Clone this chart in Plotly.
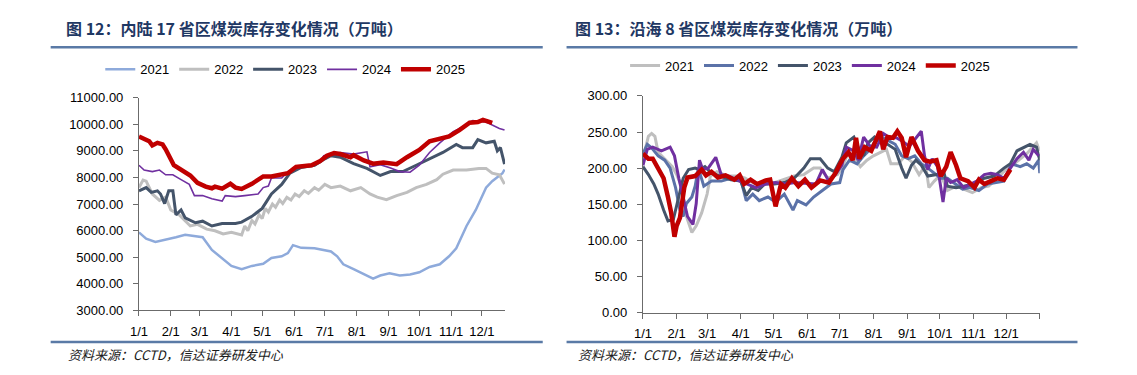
import plotly.graph_objects as go

# ---------------- data (x = day of year, 0 = Jan 1) ----------------
month_ticks = [0, 31, 59, 90, 120, 151, 181, 212, 243, 273, 304, 334]
month_labels = ["1/1", "2/1", "3/1", "4/1", "5/1", "6/1", "7/1", "8/1", "9/1", "10/1", "11/1", "12/1"]
years = ["2021", "2022", "2023", "2024", "2025"]

# Left chart: inland 17 provinces (10k t)
L2021_day = [0, 7, 16, 26, 36, 45, 55, 62, 71, 81, 90, 100, 110, 121, 129, 139, 145, 150, 158, 171, 180, 187, 193, 199, 209, 219, 228, 235, 244, 254, 264, 273, 283, 293, 302, 309, 319, 328, 338, 344, 354, 356]
L2021_val = [5935, 5694, 5574, 5654, 5750, 5840, 5790, 5750, 5273, 4973, 4672, 4552, 4672, 4752, 4973, 5033, 5153, 5453, 5353, 5333, 5273, 5213, 5033, 4733, 4552, 4371, 4191, 4311, 4391, 4311, 4351, 4431, 4632, 4733, 5033, 5333, 6175, 6777, 7618, 7859, 8159, 8300]

L2022_day = [0, 4, 7, 13, 20, 26, 31, 39, 50, 57, 66, 74, 82, 90, 100, 103, 106, 110, 113, 117, 120, 123, 126, 130, 133, 137, 140, 144, 148, 152, 156, 161, 165, 171, 175, 181, 187, 196, 206, 216, 225, 232, 241, 251, 261, 270, 280, 290, 296, 306, 319, 331, 338, 344, 351, 356]
L2022_val = [7618, 7900, 7859, 7378, 7137, 7258, 6776, 6596, 6175, 6235, 6055, 5995, 5875, 5935, 5840, 6175, 6000, 6380, 6250, 6600, 6450, 6837, 6700, 7000, 6880, 7150, 7020, 7250, 7150, 7378, 7280, 7498, 7400, 7618, 7520, 7738, 7618, 7678, 7498, 7618, 7378, 7258, 7162, 7318, 7438, 7618, 7738, 7918, 8123, 8280, 8280, 8340, 8340, 8159, 8100, 7750]

L2023_day = [0, 7, 12, 18, 21, 25, 29, 33, 36, 41, 45, 55, 62, 71, 81, 94, 100, 110, 120, 129, 139, 147, 158, 171, 181, 187, 196, 209, 222, 235, 245, 257, 270, 283, 296, 309, 315, 325, 330, 338, 346, 349, 352, 356]
L2023_val = [7498, 7618, 7438, 7498, 7378, 7017, 7498, 7498, 6596, 6776, 6476, 6295, 6355, 6175, 6271, 6271, 6320, 6536, 6837, 7378, 7738, 8159, 8376, 8460, 8700, 8820, 8761, 8520, 8340, 8075, 8220, 8220, 8460, 8700, 8940, 9242, 9122, 9122, 9423, 9303, 9362, 9002, 9122, 8500]

L2024_day = [0, 5, 13, 20, 26, 33, 41, 49, 54, 62, 71, 81, 84, 94, 103, 116, 121, 126, 129, 139, 145, 152, 165, 177, 180, 196, 209, 222, 225, 235, 245, 254, 264, 273, 283, 293, 306, 315, 325, 338, 351, 356]
L2024_val = [8460, 8280, 8220, 8280, 8100, 8100, 7918, 7738, 7318, 7318, 7197, 7113, 7318, 7280, 7318, 7378, 7618, 7678, 7979, 7979, 8220, 8340, 8436, 8640, 8820, 8940, 8880, 8965, 8400, 8480, 8360, 8220, 8196, 8460, 8940, 9303, 9723, 9903, 10144, 10084, 9843, 9783]

L2025_day = [0, 10, 13, 18, 23, 26, 34, 42, 50, 57, 65, 71, 74, 81, 89, 94, 100, 110, 121, 129, 136, 145, 153, 161, 168, 176, 181, 183, 190, 196, 206, 209, 219, 228, 238, 251, 261, 273, 283, 293, 302, 312, 322, 330, 335, 344]
L2025_val = [9542, 9362, 9206, 9303, 9243, 9061, 8460, 8243, 8075, 7799, 7654, 7594, 7654, 7582, 7763, 7618, 7570, 7763, 8040, 8040, 8075, 8159, 8400, 8420, 8460, 8604, 8761, 8820, 8917, 8880, 8761, 8840, 8640, 8520, 8560, 8500, 8761, 9037, 9362, 9447, 9542, 9783, 10060, 10084, 10168, 10050]

# Right chart: coastal 8 provinces (10k t)
R2021_day = [0, 5, 8, 11, 14, 20, 27, 31, 36, 40, 45, 49, 54, 59, 62, 68, 78, 88, 94, 103, 112, 121, 130, 139, 148, 157, 163, 170, 179, 183, 189, 195, 200, 206, 212, 218, 224, 228, 235, 241, 247, 254, 260, 263, 268, 274, 280, 288, 295, 303, 311, 318, 326, 335, 344, 353, 362, 365]
R2021_val = [213, 244, 248, 244, 222, 213, 202, 191, 173, 133, 111, 120, 138, 164, 189, 195, 189, 189, 186, 178, 180, 180, 184, 189, 191, 200, 200, 186, 191, 200, 222, 213, 202, 211, 217, 222, 226, 206, 206, 217, 209, 191, 204, 173, 182, 191, 169, 175, 171, 166, 173, 175, 186, 200, 209, 220, 235, 224]

R2022_day = [0, 4, 8, 14, 20, 25, 30, 34, 37, 40, 45, 48, 51, 56, 63, 72, 81, 90, 95, 101, 107, 115, 122, 130, 138, 142, 150, 157, 165, 173, 181, 184, 190, 197, 203, 209, 215, 221, 227, 232, 238, 244, 250, 256, 262, 268, 274, 280, 286, 294, 301, 309, 317, 324, 332, 339, 347, 353, 359, 364, 365]
R2022_val = [220, 233, 228, 217, 211, 200, 173, 142, 133, 151, 160, 175, 200, 175, 182, 182, 186, 184, 155, 164, 155, 160, 153, 164, 142, 155, 149, 160, 169, 178, 180, 198, 211, 206, 217, 226, 241, 242, 237, 233, 217, 213, 217, 206, 200, 193, 186, 186, 180, 171, 173, 169, 178, 180, 182, 206, 202, 206, 200, 211, 193]

R2023_day = [0, 5, 10, 14, 19, 23, 28, 33, 37, 42, 48, 52, 57, 63, 72, 81, 90, 95, 100, 106, 112, 121, 130, 139, 148, 154, 163, 170, 176, 183, 187, 194, 198, 203, 207, 213, 219, 225, 232, 238, 242, 247, 251, 256, 262, 268, 277, 280, 288, 295, 304, 314, 323, 332, 338, 344, 350, 356, 362, 365]
R2023_val = [202, 191, 178, 164, 142, 127, 129, 160, 186, 198, 200, 198, 202, 193, 189, 184, 182, 162, 173, 169, 178, 178, 180, 186, 200, 213, 213, 200, 195, 215, 235, 243, 229, 217, 235, 243, 235, 233, 226, 200, 186, 204, 211, 204, 189, 191, 193, 175, 173, 175, 178, 186, 189, 200, 206, 224, 229, 233, 229, 211]

R2024_day = [0, 4, 9, 17, 25, 29, 33, 37, 41, 46, 49, 52, 55, 60, 63, 67, 72, 79, 89, 95, 104, 113, 122, 131, 140, 149, 159, 165, 171, 177, 183, 187, 194, 198, 203, 209, 215, 221, 227, 233, 239, 245, 251, 256, 259, 262, 266, 271, 276, 279, 283, 289, 295, 301, 307, 314, 320, 326, 332, 338, 344, 350, 355, 359, 364]
R2024_val = [204, 226, 229, 224, 229, 217, 186, 160, 133, 122, 151, 211, 198, 200, 206, 215, 191, 189, 182, 178, 173, 178, 180, 178, 180, 179, 178, 198, 182, 191, 204, 229, 224, 211, 243, 230, 229, 248, 242, 242, 237, 230, 242, 251, 217, 198, 213, 202, 153, 186, 180, 184, 173, 178, 182, 191, 193, 191, 186, 200, 213, 222, 211, 226, 217]

R2025_day = [0, 5, 9, 14, 19, 23, 26, 29, 31, 34, 38, 41, 48, 54, 58, 63, 69, 76, 84, 89, 93, 99, 105, 113, 117, 122, 127, 131, 137, 143, 149, 155, 163, 171, 177, 181, 184, 189, 193, 196, 199, 204, 210, 215, 218, 221, 225, 230, 234, 238, 242, 247, 253, 259, 264, 270, 274, 279, 283, 288, 292, 299, 305, 309, 314, 320, 326, 332, 338]
R2025_val = [220, 213, 213, 200, 186, 160, 138, 105, 120, 131, 173, 187, 189, 198, 190, 195, 187, 190, 184, 190, 178, 184, 178, 183, 184, 147, 178, 173, 186, 175, 184, 173, 183, 180, 193, 205, 213, 222, 211, 242, 213, 229, 224, 241, 251, 226, 243, 242, 251, 242, 215, 243, 224, 211, 209, 211, 189, 202, 222, 204, 186, 182, 173, 184, 178, 182, 186, 184, 198]

left_series = [(L2021_day, L2021_val), (L2022_day, L2022_val), (L2023_day, L2023_val), (L2024_day, L2024_val), (L2025_day, L2025_val)]
right_series = [(R2021_day, R2021_val), (R2022_day, R2022_val), (R2023_day, R2023_val), (R2024_day, R2024_val), (R2025_day, R2025_val)]

left_colors = ["#8eaadb", "#bfbfbf", "#44546a", "#7030a0", "#c00000"]
left_widths = [2.5, 3, 3, 1.6, 4.5]
right_colors = ["#bfbfbf", "#5b72a8", "#44546a", "#7030a0", "#c00000"]
right_widths = [3, 3, 3, 3, 4.5]

title_left = "图 12：内陆 17 省区煤炭库存变化情况（万吨）"
title_right = "图 13：沿海 8 省区煤炭库存变化情况（万吨）"
source_text = "资料来源：CCTD，信达证券研发中心"

# ---------------- figure ----------------
W, H = 1137, 375
fig = go.Figure()

for i, (d, v) in enumerate(left_series):
    fig.add_trace(go.Scatter(x=d, y=v, mode="lines", name=years[i],
                             line=dict(color=left_colors[i], width=left_widths[i]),
                             xaxis="x", yaxis="y", legend="legend"))
for i, (d, v) in enumerate(right_series):
    fig.add_trace(go.Scatter(x=d, y=v, mode="lines", name=years[i],
                             line=dict(color=right_colors[i], width=right_widths[i]),
                             xaxis="x2", yaxis="y2", legend="legend2"))

def px_x(p):
    return p / W

def px_y(p):
    return 1 - p / H

tickfont = dict(family="Liberation Sans, Arial", size=13, color="#000000")
axis_common = dict(showline=True, linecolor="#6b6b6b", linewidth=1, ticks="outside",
                   ticklen=5, tickcolor="#6b6b6b", showgrid=False, zeroline=False,
                   tickfont=tickfont)

fig.update_layout(
    width=W, height=H,
    margin=dict(l=0, r=0, t=0, b=0),
    paper_bgcolor="white", plot_bgcolor="white",
    showlegend=True,
    xaxis=dict(domain=[px_x(131), px_x(500)], range=[0, 356.5], tickmode="array",
               tickvals=month_ticks, ticktext=month_labels, anchor="y",
               ticklabelstandoff=4, **axis_common),
    yaxis=dict(domain=[px_y(316), px_y(94.5)], range=[3000, 11000], dtick=1000,
               tickformat=".2f", anchor="x", ticklabelstandoff=7, **axis_common),
    xaxis2=dict(domain=[px_x(639), px_x(1039)], range=[0, 365], tickmode="array",
                tickvals=month_ticks + [365], ticktext=month_labels + [""], anchor="y2",
                ticklabelstandoff=4, **axis_common),
    yaxis2=dict(domain=[px_y(318.3), px_y(92.6)], range=[0, 300], dtick=50,
                tickformat=".2f", anchor="x2", ticklabelstandoff=7, **axis_common),
    legend=dict(orientation="h", x=px_x(92), y=px_y(65), xanchor="left", yanchor="middle",
                font=dict(family="Liberation Sans, Arial", size=13, color="#000000"),
                bgcolor="rgba(0,0,0,0)", itemclick=False, itemdoubleclick=False),
    legend2=dict(orientation="h", x=px_x(621), y=px_y(61), xanchor="left", yanchor="middle",
                 font=dict(family="Liberation Sans, Arial", size=13, color="#000000"),
                 bgcolor="rgba(0,0,0,0)", itemclick=False, itemdoubleclick=False),
)

title_font = dict(family="Noto Sans CJK SC", size=16, color="#1f3864")
src_font = dict(family="Noto Sans CJK SC", size=13, color="#1a1a1a")
fig.add_annotation(x=px_x(55), y=px_y(22), xref="paper", yref="paper", text="<b>" + title_left + "</b>",
                   showarrow=False, xanchor="left", yanchor="middle", font=title_font)
fig.add_annotation(x=px_x(569), y=px_y(22), xref="paper", yref="paper", text="<b>" + title_right + "</b>",
                   showarrow=False, xanchor="left", yanchor="middle", font=title_font)
fig.add_annotation(x=px_x(57), y=px_y(362), xref="paper", yref="paper", text="<i>" + source_text + "</i>",
                   showarrow=False, xanchor="left", yanchor="middle", font=src_font)
fig.add_annotation(x=px_x(572), y=px_y(362), xref="paper", yref="paper", text="<i>" + source_text + "</i>",
                   showarrow=False, xanchor="left", yanchor="middle", font=src_font)

rule = dict(color="#5a7aa6", width=2.5)
for (x0, x1, yy) in [(42, 538, 42), (562, 1077, 42), (42, 538, 349), (562, 1077, 349)]:
    fig.add_shape(type="line", xref="paper", yref="paper", x0=px_x(x0), x1=px_x(x1),
                  y0=px_y(yy), y1=px_y(yy), line=rule)

fig.write_html("out.html")
